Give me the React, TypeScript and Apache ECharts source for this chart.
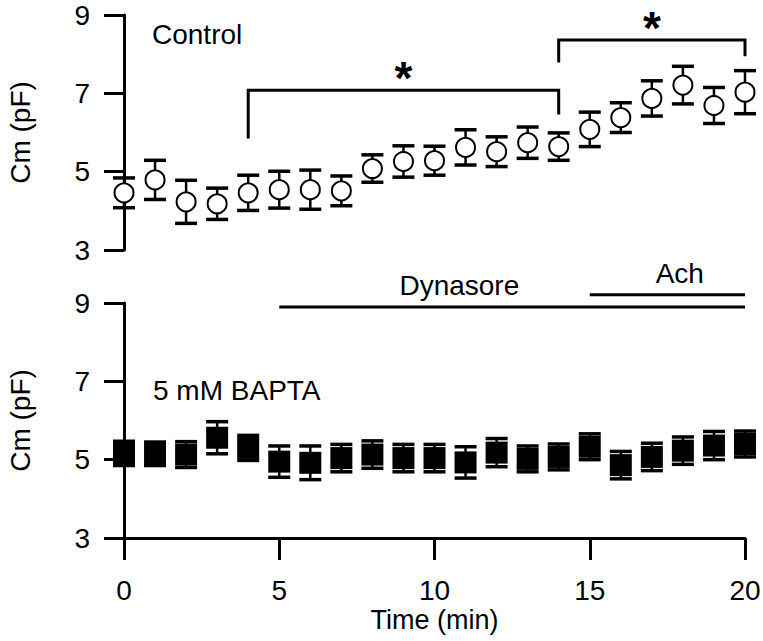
import React, { useEffect, useRef } from "react";
import * as echarts from "echarts";

const timeMin = [0, 1, 2, 3, 4, 5, 6, 7, 8, 9, 10, 11, 12, 13, 14, 15, 16, 17, 18, 19, 20];
const controlMean = [4.46, 4.79, 4.23, 4.18, 4.46, 4.54, 4.54, 4.51, 5.08, 5.26, 5.28, 5.62, 5.51, 5.74, 5.64, 6.08, 6.38, 6.87, 7.21, 6.69, 7.03];
const controlSem = [0.38, 0.5, 0.55, 0.4, 0.45, 0.47, 0.5, 0.38, 0.35, 0.4, 0.37, 0.45, 0.38, 0.4, 0.35, 0.44, 0.38, 0.45, 0.48, 0.46, 0.55];
const baptaMean = [5.16, 5.15, 5.13, 5.56, 5.3, 4.95, 4.92, 5.04, 5.13, 5.04, 5.04, 4.93, 5.18, 5.02, 5.07, 5.33, 4.86, 5.07, 5.23, 5.36, 5.4];
const baptaSem = [0.31, 0.3, 0.33, 0.41, 0.32, 0.4, 0.43, 0.35, 0.35, 0.35, 0.35, 0.4, 0.36, 0.33, 0.33, 0.33, 0.35, 0.35, 0.35, 0.36, 0.33];

const yTicks = [3, 5, 7, 9];
const xTicks = [0, 5, 10, 15, 20];

// significance brackets (top panel)
const bracketFrom = [4, 14];
const bracketTo = [14, 20];
const bracketTop = [7.08, 8.36];
const bracketLeftEnd = [5.85, 7.79];
const bracketRightEnd = [6.46, 7.95];
const bracketMark = ["*", "*"];

// treatment bars (bottom panel)
const treatmentLabels = ["Dynasore", "Ach"];
const treatmentStart = [5, 15];
const treatmentEnd = [20, 20];
const treatmentLevel = [8.9, 9.21];
const treatmentLabelX = [10.8, 17.9];

const panelLabels = ["Control", "5 mM BAPTA"];

const FONT = "'Liberation Sans', Arial, sans-serif";

const errRender = (capW: number) => (params: any, api: any) => {
  const x = api.value(0);
  const lo = api.value(1);
  const hi = api.value(2);
  const pLo = api.coord([x, lo]);
  const pHi = api.coord([x, hi]);
  const cap = { stroke: "#000", lineWidth: 3.5 };
  return {
    type: "group",
    children: [
      { type: "line", shape: { x1: pLo[0], y1: pLo[1], x2: pHi[0], y2: pHi[1] }, style: { stroke: "#000", lineWidth: 2.5 } },
      { type: "line", shape: { x1: pLo[0] - capW / 2, y1: pLo[1], x2: pLo[0] + capW / 2, y2: pLo[1] }, style: cap },
      { type: "line", shape: { x1: pHi[0] - capW / 2, y1: pHi[1], x2: pHi[0] + capW / 2, y2: pHi[1] }, style: cap },
    ],
  };
};

export default function App() {
  const ref = useRef<HTMLDivElement>(null);
  useEffect(() => {
    if (!ref.current) return;
    const chart = echarts.init(ref.current, undefined, { renderer: "svg" });

    const yAxisBase = (gridIndex: number) => ({
      type: "value",
      gridIndex,
      min: 3,
      max: 9,
      interval: 2,
      name: "Cm (pF)",
      nameLocation: "middle",
      nameGap: 90,
      nameTextStyle: { fontSize: 28, color: "#000", fontFamily: FONT },
      axisLine: { show: true, lineStyle: { color: "#000", width: 3 } },
      axisTick: { show: true, length: 20, lineStyle: { color: "#000", width: 3 } },
      axisLabel: {
        fontSize: 28,
        color: "#000",
        fontFamily: FONT,
        margin: 34,
        formatter: (v: number) => (yTicks.includes(v) ? String(v) : ""),
      },
      splitLine: { show: false },
    });

    const controlErr = timeMin.map((t, i) => [t, controlMean[i] - controlSem[i], controlMean[i] + controlSem[i]]);
    const baptaErr = timeMin.map((t, i) => [t, baptaMean[i] - baptaSem[i], baptaMean[i] + baptaSem[i]]);
    const bracketData = bracketFrom.map((f, i) => [f, bracketTo[i], bracketTop[i], bracketLeftEnd[i], bracketRightEnd[i]]);
    const treatData = treatmentStart.map((s, i) => [s, treatmentEnd[i], treatmentLevel[i], treatmentLabelX[i], i]);

    chart.setOption({
      animation: false,
      backgroundColor: "#fff",
      grid: [
        { left: 124, width: 621, top: 15, height: 235, containLabel: false, outerBoundsMode: "none" },
        { left: 124, width: 621, top: 303, height: 235, containLabel: false, outerBoundsMode: "none" },
      ],
      xAxis: [
        { type: "value", gridIndex: 0, min: 0, max: 20, interval: 5, show: false },
        {
          type: "value",
          gridIndex: 1,
          min: 0,
          max: 20,
          interval: 5,
          name: "Time (min)",
          nameLocation: "middle",
          nameGap: 68,
          nameTextStyle: { fontSize: 27, color: "#000", fontFamily: FONT },
          axisLine: { show: true, lineStyle: { color: "#000", width: 3 } },
          axisTick: { show: true, length: 22, lineStyle: { color: "#000", width: 3 } },
          axisLabel: {
            fontSize: 28,
            color: "#000",
            fontFamily: FONT,
            margin: 38,
            formatter: (v: number) => (xTicks.includes(v) ? String(v) : ""),
          },
          splitLine: { show: false },
        },
      ],
      yAxis: [yAxisBase(0), yAxisBase(1)],
      graphic: [
        { type: "text", left: 152, top: 20, style: { text: panelLabels[0], fontSize: 28, fill: "#000", fontFamily: FONT } },
        { type: "text", left: 153, top: 376, style: { text: panelLabels[1], fontSize: 28, fill: "#000", fontFamily: FONT } },
      ],
      series: [
        {
          type: "custom",
          xAxisIndex: 0,
          yAxisIndex: 0,
          z: 2,
          renderItem: errRender(22),
          data: controlErr,
          encode: { x: 0, y: [1, 2] },
          clip: false,
        },
        {
          type: "scatter",
          xAxisIndex: 0,
          yAxisIndex: 0,
          z: 5,
          symbol: "circle",
          symbolSize: 19,
          itemStyle: { color: "#fff", borderColor: "#000", borderWidth: 2, opacity: 1 },
          data: timeMin.map((t, i) => [t, controlMean[i]]),
        },
        {
          type: "custom",
          xAxisIndex: 1,
          yAxisIndex: 1,
          z: 2,
          renderItem: errRender(22),
          data: baptaErr,
          encode: { x: 0, y: [1, 2] },
          clip: false,
        },
        {
          type: "scatter",
          xAxisIndex: 1,
          yAxisIndex: 1,
          z: 5,
          symbol: "rect",
          symbolSize: 22,
          itemStyle: { color: "#000", opacity: 1 },
          data: timeMin.map((t, i) => [t, baptaMean[i]]),
        },
        {
          type: "custom",
          xAxisIndex: 0,
          yAxisIndex: 0,
          z: 3,
          clip: false,
          data: bracketData,
          encode: { x: [0, 1], y: [2, 3, 4] },
          renderItem: (params: any, api: any) => {
            const x1 = api.value(0);
            const x2 = api.value(1);
            const top = api.value(2);
            const pA = api.coord([x1, api.value(3)]);
            const pB = api.coord([x1, top]);
            const pC = api.coord([x2, top]);
            const pD = api.coord([x2, api.value(4)]);
            const mid = api.coord([(x1 + x2) / 2, top]);
            return {
              type: "group",
              children: [
                {
                  type: "polyline",
                  shape: { points: [pA, pB, pC, pD] },
                  style: { stroke: "#000", lineWidth: 3, fill: "none" },
                },
                {
                  type: "text",
                  x: mid[0],
                  y: mid[1] - 12,
                  style: {
                    text: bracketMark[params.dataIndex],
                    font: `bold 46px ${FONT}`,
                    fill: "#000",
                    textAlign: "center",
                    textVerticalAlign: "middle",
                  },
                },
              ],
            };
          },
        },
        {
          type: "custom",
          xAxisIndex: 1,
          yAxisIndex: 1,
          z: 3,
          clip: false,
          data: treatData,
          encode: { x: [0, 1], y: 2 },
          renderItem: (params: any, api: any) => {
            const p1 = api.coord([api.value(0), api.value(2)]);
            const p2 = api.coord([api.value(1), api.value(2)]);
            const pl = api.coord([api.value(3), api.value(2)]);
            return {
              type: "group",
              children: [
                {
                  type: "line",
                  shape: { x1: p1[0], y1: p1[1], x2: p2[0], y2: p2[1] },
                  style: { stroke: "#000", lineWidth: 3 },
                },
                {
                  type: "text",
                  x: pl[0],
                  y: p1[1] - 7,
                  style: {
                    text: treatmentLabels[params.dataIndex],
                    font: `28px ${FONT}`,
                    fill: "#000",
                    textAlign: "center",
                    textVerticalAlign: "bottom",
                  },
                },
              ],
            };
          },
        },
      ],
    });
    return () => chart.dispose();
  }, []);
  return <div ref={ref} style={{ position: "fixed", left: 0, top: 0, width: 763, height: 641, background: "#fff" }} />;
}
